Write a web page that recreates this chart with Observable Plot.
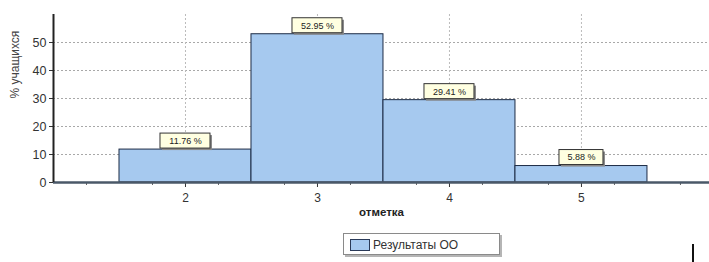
<!DOCTYPE html>
<html><head><meta charset="utf-8">
<script src="https://cdn.jsdelivr.net/npm/d3@7"></script>
<script src="https://cdn.jsdelivr.net/npm/@observablehq/plot@0.6"></script>
<style>
body{margin:0;background:#fff;font-family:"Liberation Sans",Arial,sans-serif;}
#wrap{position:relative;width:709px;height:262px;overflow:hidden;}
#chart svg{display:block;}
#legend{position:absolute;left:343px;top:233px;width:157px;height:22px;border:1px solid #8a8a8a;box-shadow:2px 2px 0 #b5b5b5;background:#fff;font-size:12px;color:#333;line-height:22px;box-sizing:border-box;}
#legend .sw{position:absolute;left:6px;top:5px;width:18px;height:10px;background:#a6c9ef;border:1px solid #2a3a58;}
#legend .tx{position:absolute;left:29px;top:0;}
#mark{position:absolute;left:692px;top:244px;width:2px;height:18px;background:#111;}
</style></head><body>
<div id="wrap"><div id="chart"></div>
<div id="legend"><span class="sw"></span><span class="tx">Результаты ОО</span></div>
<div id="mark"></div>
</div>
<script>
const categories = [2, 3, 4, 5];
const percents = [11.76, 52.95, 29.41, 5.88];
const labels = ["11.76 %", "52.95 %", "29.41 %", "5.88 %"];
const yTicks = [0, 10, 20, 30, 40, 50];
const xTicks = [2, 3, 4, 5];
const minorXTicks = [1.25, 1.75, 2.25, 2.75, 3.25, 3.75, 4.25, 4.75, 5.25, 5.75];
const yTitle = "% учащихся";
const xTitle = "отметка";

const data = categories.map((c, i) => ({cat: c, value: percents[i], label: labels[i]}));

const boxMarks = data.flatMap(d => {
  const hw = (d.label.length * 6 + 8) / 2;
  const opts = {x1: "cat", x2: "cat", y1: "value", y2: "value",
    insetLeft: -hw, insetRight: -hw, insetTop: -15, insetBottom: 0};
  return [
    Plot.rect([d], {...opts, fill: "#8a8a8a", dx: 2, dy: 1}),
    Plot.rect([d], {...opts, fill: "#ffffe1", stroke: "#333", strokeWidth: 1, dy: -1})
  ];
});

const chart = Plot.plot({
  width: 709, height: 225,
  marginLeft: 53, marginRight: 0, marginTop: 14, marginBottom: 43,
  style: {fontFamily: '"Liberation Sans", Arial, sans-serif', background: "#fff", color: "#333"},
  x: {type: "linear", domain: [1, 5.97]},
  y: {domain: [0, 60]},
  marks: [
    Plot.gridY(yTicks.filter(t => t > 0), {stroke: "#a8a8a8", strokeOpacity: 1, strokeDasharray: "2,2"}),
    Plot.gridX(xTicks, {stroke: "#bcbcbc", strokeOpacity: 1, strokeDasharray: "2,2"}),
    Plot.rect(data, {x1: d => d.cat - 0.5, x2: d => d.cat + 0.5, y1: 0, y2: "value",
      fill: "#a6c9ef", stroke: "#1c2b45", strokeWidth: 1}),
    ...boxMarks,
    Plot.text(data, {x: "cat", y: "value", text: "label", dy: -8.5, fontSize: 9, fill: "#222"}),
    Plot.axisX(minorXTicks, {tickSize: 3, tickFormat: () => "", label: null, stroke: "#666"}),
    Plot.axisX(xTicks, {tickSize: 5, tickPadding: 6, fontSize: 12, label: null, fill: "#333", tickFormat: d => String(d)}),
    Plot.axisY(yTicks, {tickSize: 4, tickPadding: 3, fontSize: 12.5, label: null, fill: "#333", tickFormat: d => String(d)}),
    Plot.ruleY([0], {stroke: "#4a5868", strokeWidth: 2.5}),
    Plot.ruleX([1], {stroke: "#222", strokeWidth: 2}),
    Plot.text([yTitle], {frameAnchor: "left", text: d => d, rotate: -90, dx: -38, fontSize: 12, fill: "#444"}),
    Plot.text([xTitle], {frameAnchor: "bottom", text: d => d, dy: 33, fontSize: 11.5, fontWeight: "bold", fill: "#222"})
  ]
});
document.getElementById("chart").appendChild(chart);
</script>
</body></html>
